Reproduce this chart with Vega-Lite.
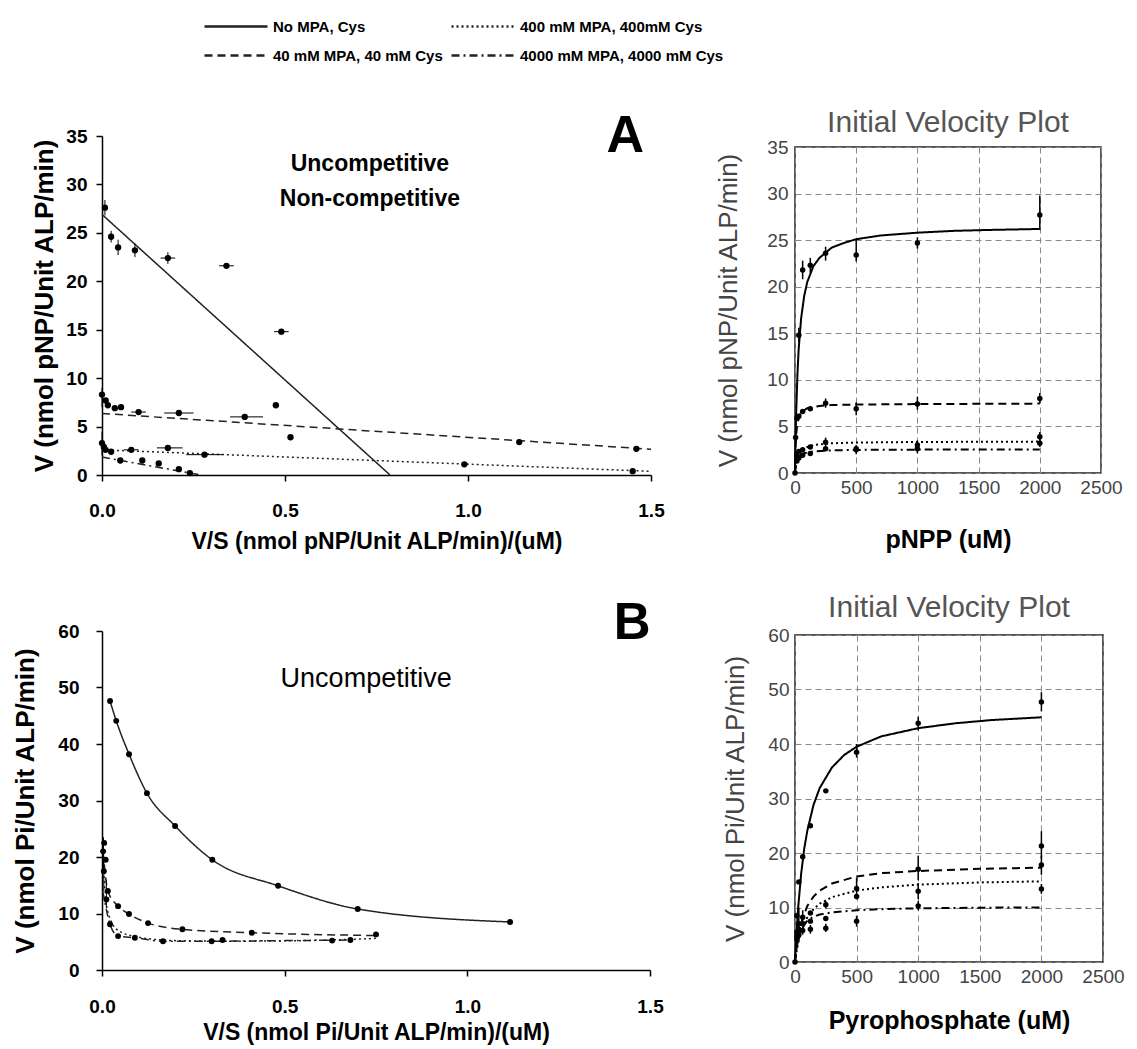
{
  "$schema": "https://vega.github.io/schema/vega-lite/v6.json",
  "background": "white",
  "padding": {"left": 12, "top": 14, "right": 5, "bottom": 5},
  "config": {"font": "Liberation Sans", "view": {"stroke": null}},
  "datasets": {
    "aL_lines": [
      {"series": "No MPA, Cys", "x": 0, "y": 26.9}, {"series": "No MPA, Cys", "x": 0.787, "y": 0},
      {"series": "40 mM MPA, 40 mM Cys", "x": 0, "y": 6.35}, {"series": "40 mM MPA, 40 mM Cys", "x": 1.5, "y": 2.66},
      {"series": "400 mM MPA, 400mM Cys", "x": 0, "y": 2.6}, {"series": "400 mM MPA, 400mM Cys", "x": 1.5, "y": 0.38},
      {"series": "4000 mM MPA, 4000 mM Cys", "x": 0, "y": 1.85}, {"series": "4000 mM MPA, 4000 mM Cys", "x": 0.27, "y": 0}
    ],
    "aL_pts": [
      {"x": 0.008, "y": 27.6}, {"x": 0.025, "y": 24.6}, {"x": 0.044, "y": 23.5}, {"x": 0.09, "y": 23.2}, {"x": 0.18, "y": 22.4}, {"x": 0.34, "y": 21.6}, {"x": 0.49, "y": 14.8}, {"x": 0.475, "y": 7.2}, {"x": 0.515, "y": 3.9},
      {"x": 0.0, "y": 8.3}, {"x": 0.01, "y": 7.7}, {"x": 0.016, "y": 7.2}, {"x": 0.035, "y": 6.9}, {"x": 0.052, "y": 7.0}, {"x": 0.1, "y": 6.5}, {"x": 0.21, "y": 6.4}, {"x": 0.39, "y": 6.0}, {"x": 1.14, "y": 3.4}, {"x": 1.46, "y": 2.7},
      {"x": 0.0, "y": 3.3}, {"x": 0.005, "y": 2.9}, {"x": 0.01, "y": 2.6}, {"x": 0.025, "y": 2.4}, {"x": 0.08, "y": 2.6}, {"x": 0.18, "y": 2.8}, {"x": 0.28, "y": 2.1}, {"x": 0.99, "y": 1.1}, {"x": 1.45, "y": 0.4},
      {"x": 0.05, "y": 1.5}, {"x": 0.11, "y": 1.5}, {"x": 0.155, "y": 1.2}, {"x": 0.21, "y": 0.6}, {"x": 0.24, "y": 0.2}
    ],
    "aL_herr": [
      {"y": 6.4, "xlo": 0.17, "xhi": 0.25}, {"y": 6.0, "xlo": 0.35, "xhi": 0.44}, {"y": 2.1, "xlo": 0.23, "xhi": 0.33}, {"y": 2.8, "xlo": 0.15, "xhi": 0.22}, {"y": 6.5, "xlo": 0.08, "xhi": 0.12}, {"y": 22.4, "xlo": 0.16, "xhi": 0.2}, {"y": 21.6, "xlo": 0.32, "xhi": 0.36}, {"y": 14.8, "xlo": 0.47, "xhi": 0.51}, {"y": 2.6, "xlo": 0.06, "xhi": 0.1}
    ],
    "aL_verr": [
      {"x": 0.008, "ylo": 26.8, "yhi": 28.4}, {"x": 0.025, "ylo": 24.0, "yhi": 25.2}, {"x": 0.044, "ylo": 22.7, "yhi": 24.3}, {"x": 0.09, "ylo": 22.5, "yhi": 23.9}, {"x": 0.18, "ylo": 21.8, "yhi": 23.0}, {"x": 0.0, "ylo": 7.0, "yhi": 9.0}, {"x": 0.0, "ylo": 2.0, "yhi": 4.5}
    ],
    "aL_txt": [{"label": "Uncompetitive", "x": 0.732, "y": 32.1}, {"label": "Non-competitive", "x": 0.732, "y": 28.5}],
    "aL_letter": [{"label": "A", "x": 1.43, "y": 35.0}],
    "aR_lines": [
      {"series": "No MPA, Cys", "x": 0, "y": 0}, {"series": "No MPA, Cys", "x": 5, "y": 3.8}, {"series": "No MPA, Cys", "x": 10, "y": 6.65}, {"series": "No MPA, Cys", "x": 20, "y": 10.6}, {"series": "No MPA, Cys", "x": 30, "y": 13.3}, {"series": "No MPA, Cys", "x": 50, "y": 16.6}, {"series": "No MPA, Cys", "x": 75, "y": 19.0}, {"series": "No MPA, Cys", "x": 100, "y": 20.5}, {"series": "No MPA, Cys", "x": 150, "y": 22.2}, {"series": "No MPA, Cys", "x": 200, "y": 23.1}, {"series": "No MPA, Cys", "x": 300, "y": 24.2}, {"series": "No MPA, Cys", "x": 400, "y": 24.7}, {"series": "No MPA, Cys", "x": 500, "y": 25.1}, {"series": "No MPA, Cys", "x": 700, "y": 25.5}, {"series": "No MPA, Cys", "x": 1000, "y": 25.8}, {"series": "No MPA, Cys", "x": 1300, "y": 26.0}, {"series": "No MPA, Cys", "x": 1600, "y": 26.1}, {"series": "No MPA, Cys", "x": 2000, "y": 26.2},
      {"series": "40 mM MPA, 40 mM Cys", "x": 0, "y": 0}, {"series": "40 mM MPA, 40 mM Cys", "x": 5, "y": 2.9}, {"series": "40 mM MPA, 40 mM Cys", "x": 10, "y": 4.2}, {"series": "40 mM MPA, 40 mM Cys", "x": 20, "y": 5.4}, {"series": "40 mM MPA, 40 mM Cys", "x": 40, "y": 6.25}, {"series": "40 mM MPA, 40 mM Cys", "x": 60, "y": 6.6}, {"series": "40 mM MPA, 40 mM Cys", "x": 100, "y": 6.95}, {"series": "40 mM MPA, 40 mM Cys", "x": 200, "y": 7.2}, {"series": "40 mM MPA, 40 mM Cys", "x": 300, "y": 7.3}, {"series": "40 mM MPA, 40 mM Cys", "x": 500, "y": 7.35}, {"series": "40 mM MPA, 40 mM Cys", "x": 1000, "y": 7.4}, {"series": "40 mM MPA, 40 mM Cys", "x": 2000, "y": 7.45},
      {"series": "400 mM MPA, 400mM Cys", "x": 0, "y": 0}, {"series": "400 mM MPA, 400mM Cys", "x": 10, "y": 1.13}, {"series": "400 mM MPA, 400mM Cys", "x": 20, "y": 1.7}, {"series": "400 mM MPA, 400mM Cys", "x": 40, "y": 2.27}, {"series": "400 mM MPA, 400mM Cys", "x": 75, "y": 2.68}, {"series": "400 mM MPA, 400mM Cys", "x": 150, "y": 3.0}, {"series": "400 mM MPA, 400mM Cys", "x": 300, "y": 3.19}, {"series": "400 mM MPA, 400mM Cys", "x": 500, "y": 3.27}, {"series": "400 mM MPA, 400mM Cys", "x": 1000, "y": 3.33}, {"series": "400 mM MPA, 400mM Cys", "x": 2000, "y": 3.37},
      {"series": "4000 mM MPA, 4000 mM Cys", "x": 0, "y": 0}, {"series": "4000 mM MPA, 4000 mM Cys", "x": 10, "y": 1.02}, {"series": "4000 mM MPA, 4000 mM Cys", "x": 20, "y": 1.46}, {"series": "4000 mM MPA, 4000 mM Cys", "x": 40, "y": 1.85}, {"series": "4000 mM MPA, 4000 mM Cys", "x": 75, "y": 2.13}, {"series": "4000 mM MPA, 4000 mM Cys", "x": 150, "y": 2.32}, {"series": "4000 mM MPA, 4000 mM Cys", "x": 300, "y": 2.43}, {"series": "4000 mM MPA, 4000 mM Cys", "x": 500, "y": 2.48}, {"series": "4000 mM MPA, 4000 mM Cys", "x": 1000, "y": 2.51}, {"series": "4000 mM MPA, 4000 mM Cys", "x": 2000, "y": 2.53}
    ],
    "aR_pts": [
      {"x": 0, "y": 0}, {"x": 31.25, "y": 14.8}, {"x": 62.5, "y": 21.8}, {"x": 125, "y": 22.3}, {"x": 250, "y": 23.6}, {"x": 500, "y": 23.4}, {"x": 1000, "y": 24.7}, {"x": 2000, "y": 27.7},
      {"x": 15.6, "y": 5.9}, {"x": 31.25, "y": 6.1}, {"x": 62.5, "y": 6.6}, {"x": 125, "y": 6.9}, {"x": 250, "y": 7.5}, {"x": 500, "y": 6.9}, {"x": 1000, "y": 7.4}, {"x": 2000, "y": 8.0},
      {"x": 15.6, "y": 1.9}, {"x": 31.25, "y": 2.3}, {"x": 62.5, "y": 2.5}, {"x": 125, "y": 2.8}, {"x": 250, "y": 3.3}, {"x": 500, "y": 2.6}, {"x": 1000, "y": 3.0}, {"x": 2000, "y": 3.9},
      {"x": 15.6, "y": 1.3}, {"x": 31.25, "y": 1.6}, {"x": 62.5, "y": 1.9}, {"x": 125, "y": 2.1}, {"x": 250, "y": 2.6}, {"x": 500, "y": 2.5}, {"x": 1000, "y": 2.6}, {"x": 2000, "y": 3.2}, {"x": 5, "y": 3.8}
    ],
    "aR_err": [
      {"x": 31.25, "ylo": 14, "yhi": 15.6}, {"x": 62.5, "ylo": 20.8, "yhi": 22.8}, {"x": 125, "ylo": 21.5, "yhi": 23.1}, {"x": 250, "ylo": 22.8, "yhi": 24.3}, {"x": 500, "ylo": 22.7, "yhi": 25.0}, {"x": 1000, "ylo": 24.1, "yhi": 25.3}, {"x": 2000, "ylo": 26.1, "yhi": 29.8},
      {"x": 500, "ylo": 6.2, "yhi": 7.6}, {"x": 1000, "ylo": 6.8, "yhi": 8.2}, {"x": 2000, "ylo": 7.5, "yhi": 8.6}, {"x": 250, "ylo": 7.0, "yhi": 8.0}, {"x": 250, "ylo": 2.8, "yhi": 3.8}, {"x": 1000, "ylo": 2.5, "yhi": 3.5}, {"x": 2000, "ylo": 3.4, "yhi": 4.4}, {"x": 500, "ylo": 2.0, "yhi": 3.0}, {"x": 1000, "ylo": 2.1, "yhi": 3.1}, {"x": 2000, "ylo": 2.8, "yhi": 3.6}
    ],
    "bL_lines": [
      {"series": "No MPA, Cys", "x": 0.022, "y": 47.6}, {"series": "No MPA, Cys", "x": 0.039, "y": 44.1}, {"series": "No MPA, Cys", "x": 0.074, "y": 38.2}, {"series": "No MPA, Cys", "x": 0.123, "y": 31.3}, {"series": "No MPA, Cys", "x": 0.2, "y": 25.5}, {"series": "No MPA, Cys", "x": 0.302, "y": 19.5}, {"series": "No MPA, Cys", "x": 0.482, "y": 14.9}, {"series": "No MPA, Cys", "x": 0.7, "y": 10.8}, {"series": "No MPA, Cys", "x": 1.117, "y": 8.5},
      {"series": "40 mM MPA, 40 mM Cys", "x": 0.003, "y": 21}, {"series": "40 mM MPA, 40 mM Cys", "x": 0.016, "y": 14}, {"series": "40 mM MPA, 40 mM Cys", "x": 0.044, "y": 11.3}, {"series": "40 mM MPA, 40 mM Cys", "x": 0.074, "y": 9.9}, {"series": "40 mM MPA, 40 mM Cys", "x": 0.126, "y": 8.3}, {"series": "40 mM MPA, 40 mM Cys", "x": 0.22, "y": 7.2}, {"series": "40 mM MPA, 40 mM Cys", "x": 0.41, "y": 6.6}, {"series": "40 mM MPA, 40 mM Cys", "x": 0.75, "y": 6.1},
      {"series": "400 mM MPA, 400mM Cys", "x": 0.004, "y": 17.5}, {"series": "400 mM MPA, 400mM Cys", "x": 0.015, "y": 10.5}, {"series": "400 mM MPA, 400mM Cys", "x": 0.044, "y": 7.0}, {"series": "400 mM MPA, 400mM Cys", "x": 0.1, "y": 5.8}, {"series": "400 mM MPA, 400mM Cys", "x": 0.2, "y": 5.2}, {"series": "400 mM MPA, 400mM Cys", "x": 0.35, "y": 5.1}, {"series": "400 mM MPA, 400mM Cys", "x": 0.55, "y": 5.2}, {"series": "400 mM MPA, 400mM Cys", "x": 0.75, "y": 5.6},
      {"series": "4000 mM MPA, 4000 mM Cys", "x": 0.002, "y": 14}, {"series": "4000 mM MPA, 4000 mM Cys", "x": 0.022, "y": 8.1}, {"series": "4000 mM MPA, 4000 mM Cys", "x": 0.044, "y": 6.0}, {"series": "4000 mM MPA, 4000 mM Cys", "x": 0.09, "y": 5.7}, {"series": "4000 mM MPA, 4000 mM Cys", "x": 0.167, "y": 5.1}, {"series": "4000 mM MPA, 4000 mM Cys", "x": 0.3, "y": 5.1}, {"series": "4000 mM MPA, 4000 mM Cys", "x": 0.5, "y": 5.2}, {"series": "4000 mM MPA, 4000 mM Cys", "x": 0.68, "y": 5.3}
    ],
    "bL_pts": [
      {"x": 0.022, "y": 47.6}, {"x": 0.039, "y": 44.1}, {"x": 0.074, "y": 38.2}, {"x": 0.123, "y": 31.3}, {"x": 0.2, "y": 25.5}, {"x": 0.302, "y": 19.5}, {"x": 0.482, "y": 14.9}, {"x": 0.7, "y": 10.8}, {"x": 1.117, "y": 8.5},
      {"x": 0.003, "y": 21}, {"x": 0.005, "y": 17.5}, {"x": 0.016, "y": 14}, {"x": 0.044, "y": 11.3}, {"x": 0.074, "y": 9.9}, {"x": 0.126, "y": 8.3}, {"x": 0.22, "y": 7.2}, {"x": 0.41, "y": 6.6}, {"x": 0.75, "y": 6.3},
      {"x": 0.022, "y": 8.1}, {"x": 0.044, "y": 6.0}, {"x": 0.09, "y": 5.7}, {"x": 0.167, "y": 5.1}, {"x": 0.3, "y": 5.1}, {"x": 0.33, "y": 5.3}, {"x": 0.63, "y": 5.2}, {"x": 0.68, "y": 5.3}, {"x": 0.006, "y": 22.5}, {"x": 0.01, "y": 19.5}, {"x": 0.012, "y": 12.5}
    ],
    "bL_verr": [{"x": 0.004, "ylo": 18, "yhi": 23.5}, {"x": 0.012, "ylo": 11, "yhi": 16}, {"x": 0.005, "ylo": 14, "yhi": 20}],
    "bL_txt": [{"label": "Uncompetitive", "x": 0.723, "y": 51.5}],
    "bL_letter": [{"label": "B", "x": 1.451, "y": 61.2}],
    "bR_lines": [
      {"series": "No MPA, Cys", "x": 0, "y": 0}, {"series": "No MPA, Cys", "x": 10, "y": 4.5}, {"series": "No MPA, Cys", "x": 25, "y": 9.8}, {"series": "No MPA, Cys", "x": 50, "y": 16.2}, {"series": "No MPA, Cys", "x": 75, "y": 20.8}, {"series": "No MPA, Cys", "x": 100, "y": 24.1}, {"series": "No MPA, Cys", "x": 150, "y": 28.8}, {"series": "No MPA, Cys", "x": 200, "y": 31.9}, {"series": "No MPA, Cys", "x": 300, "y": 35.7}, {"series": "No MPA, Cys", "x": 400, "y": 38.0}, {"series": "No MPA, Cys", "x": 500, "y": 39.5}, {"series": "No MPA, Cys", "x": 700, "y": 41.4}, {"series": "No MPA, Cys", "x": 1000, "y": 42.9}, {"series": "No MPA, Cys", "x": 1300, "y": 43.8}, {"series": "No MPA, Cys", "x": 1600, "y": 44.4}, {"series": "No MPA, Cys", "x": 2000, "y": 44.9},
      {"series": "40 mM MPA, 40 mM Cys", "x": 0, "y": 0}, {"series": "40 mM MPA, 40 mM Cys", "x": 10, "y": 2.1}, {"series": "40 mM MPA, 40 mM Cys", "x": 25, "y": 4.5}, {"series": "40 mM MPA, 40 mM Cys", "x": 50, "y": 7.2}, {"series": "40 mM MPA, 40 mM Cys", "x": 100, "y": 10.3}, {"series": "40 mM MPA, 40 mM Cys", "x": 150, "y": 12.0}, {"series": "40 mM MPA, 40 mM Cys", "x": 200, "y": 13.1}, {"series": "40 mM MPA, 40 mM Cys", "x": 300, "y": 14.4}, {"series": "40 mM MPA, 40 mM Cys", "x": 500, "y": 15.7}, {"series": "40 mM MPA, 40 mM Cys", "x": 700, "y": 16.3}, {"series": "40 mM MPA, 40 mM Cys", "x": 1000, "y": 16.7}, {"series": "40 mM MPA, 40 mM Cys", "x": 1500, "y": 17.1}, {"series": "40 mM MPA, 40 mM Cys", "x": 2000, "y": 17.3},
      {"series": "400 mM MPA, 400mM Cys", "x": 0, "y": 0}, {"series": "400 mM MPA, 400mM Cys", "x": 10, "y": 1.55}, {"series": "400 mM MPA, 400mM Cys", "x": 25, "y": 3.4}, {"series": "400 mM MPA, 400mM Cys", "x": 50, "y": 5.5}, {"series": "400 mM MPA, 400mM Cys", "x": 100, "y": 8.2}, {"series": "400 mM MPA, 400mM Cys", "x": 150, "y": 9.7}, {"series": "400 mM MPA, 400mM Cys", "x": 200, "y": 10.7}, {"series": "400 mM MPA, 400mM Cys", "x": 300, "y": 11.9}, {"series": "400 mM MPA, 400mM Cys", "x": 500, "y": 13.1}, {"series": "400 mM MPA, 400mM Cys", "x": 700, "y": 13.7}, {"series": "400 mM MPA, 400mM Cys", "x": 1000, "y": 14.2}, {"series": "400 mM MPA, 400mM Cys", "x": 1500, "y": 14.6}, {"series": "400 mM MPA, 400mM Cys", "x": 2000, "y": 14.8},
      {"series": "4000 mM MPA, 4000 mM Cys", "x": 0, "y": 0}, {"series": "4000 mM MPA, 4000 mM Cys", "x": 10, "y": 2.3}, {"series": "4000 mM MPA, 4000 mM Cys", "x": 25, "y": 4.25}, {"series": "4000 mM MPA, 4000 mM Cys", "x": 50, "y": 6.0}, {"series": "4000 mM MPA, 4000 mM Cys", "x": 100, "y": 7.6}, {"series": "4000 mM MPA, 4000 mM Cys", "x": 150, "y": 8.3}, {"series": "4000 mM MPA, 4000 mM Cys", "x": 200, "y": 8.7}, {"series": "4000 mM MPA, 4000 mM Cys", "x": 300, "y": 9.1}, {"series": "4000 mM MPA, 4000 mM Cys", "x": 500, "y": 9.5}, {"series": "4000 mM MPA, 4000 mM Cys", "x": 700, "y": 9.7}, {"series": "4000 mM MPA, 4000 mM Cys", "x": 1000, "y": 9.85}, {"series": "4000 mM MPA, 4000 mM Cys", "x": 1500, "y": 9.97}, {"series": "4000 mM MPA, 4000 mM Cys", "x": 2000, "y": 10.0}
    ],
    "bR_pts": [
      {"x": 0, "y": 0}, {"x": 15.6, "y": 8.5}, {"x": 31.25, "y": 14.7}, {"x": 62.5, "y": 19.3}, {"x": 125, "y": 25.0}, {"x": 250, "y": 31.4}, {"x": 500, "y": 38.5}, {"x": 1000, "y": 43.8}, {"x": 2000, "y": 47.7},
      {"x": 15.6, "y": 5.5}, {"x": 31.25, "y": 7.0}, {"x": 62.5, "y": 8.2}, {"x": 125, "y": 9.0}, {"x": 250, "y": 10.5}, {"x": 500, "y": 13.5}, {"x": 1000, "y": 17.0}, {"x": 2000, "y": 21.3},
      {"x": 15.6, "y": 4.8}, {"x": 31.25, "y": 6.0}, {"x": 62.5, "y": 7.0}, {"x": 125, "y": 7.5}, {"x": 250, "y": 8.0}, {"x": 500, "y": 12.0}, {"x": 1000, "y": 13.0}, {"x": 2000, "y": 17.8},
      {"x": 15.6, "y": 4.2}, {"x": 31.25, "y": 5.0}, {"x": 62.5, "y": 5.8}, {"x": 125, "y": 6.0}, {"x": 250, "y": 6.2}, {"x": 500, "y": 7.5}, {"x": 1000, "y": 10.3}, {"x": 2000, "y": 13.4}
    ],
    "bR_err": [
      {"x": 500, "ylo": 37.5, "yhi": 40}, {"x": 1000, "ylo": 42.5, "yhi": 45}, {"x": 2000, "ylo": 46, "yhi": 49.5}, {"x": 250, "ylo": 9.8, "yhi": 11.2}, {"x": 500, "ylo": 11.5, "yhi": 15.5}, {"x": 1000, "ylo": 15, "yhi": 19.5}, {"x": 2000, "ylo": 19, "yhi": 24}, {"x": 1000, "ylo": 11.5, "yhi": 14.5}, {"x": 2000, "ylo": 16, "yhi": 19.5}, {"x": 125, "ylo": 5.2, "yhi": 6.8}, {"x": 250, "ylo": 5.5, "yhi": 7}, {"x": 500, "ylo": 6.5, "yhi": 8.5}, {"x": 1000, "ylo": 9.5, "yhi": 11.2}, {"x": 2000, "ylo": 12.5, "yhi": 14.3}, {"x": 31.25, "ylo": 4, "yhi": 10}, {"x": 62.5, "ylo": 5, "yhi": 9.5}
    ]
  },
  "hconcat": [
    {
      "spacing": 45,
      "vconcat": [
        {
          "width": 549, "height": 339,
          "view": {"stroke": null},
          "encoding": {
            "x": {"field": "x", "type": "quantitative", "scale": {"domain": [0, 1.5], "nice": false, "zero": false},
              "axis": {"title": "V/S (nmol pNP/Unit ALP/min)/(uM)", "values": [0, 0.5, 1, 1.5], "format": ".1f", "grid": false, "labelFont": "Liberation Sans", "labelFontWeight": "bold", "labelFontSize": 19, "labelColor": "black", "labelPadding": 20, "labelFlush": false, "labelOverlap": false, "tickSize": 6, "tickColor": "black", "tickWidth": 1.5, "domainColor": "black", "domainWidth": 1.5, "titleFont": "Liberation Sans", "titleFontSize": 23, "titleFontWeight": "bold", "titleColor": "black", "titlePadding": 10}},
            "y": {"field": "y", "type": "quantitative", "scale": {"domain": [0, 35], "nice": false},
              "axis": {"title": "V (nmol pNP/Unit ALP/min)", "values": [0, 5, 10, 15, 20, 25, 30, 35], "grid": false, "labelFont": "Liberation Sans", "labelFontWeight": "bold", "labelFontSize": 19, "labelColor": "black", "labelPadding": 9, "labelOverlap": false, "tickSize": 6, "tickColor": "black", "tickWidth": 1.5, "domainColor": "black", "domainWidth": 1.5, "titleFont": "Liberation Sans", "titleFontSize": 26, "titleFontWeight": "bold", "titleColor": "black", "titlePadding": 8}}
          },
          "layer": [
            {"data": {"name": "aL_lines"}, "mark": {"type": "line", "color": "#222", "strokeWidth": 1.5},
              "encoding": {"strokeDash": {"field": "series", "type": "nominal",
                "scale": {"domain": ["No MPA, Cys", "40 mM MPA, 40 mM Cys", "400 mM MPA, 400mM Cys", "4000 mM MPA, 4000 mM Cys"], "range": [[1, 0], [8, 5], [2, 3], [8, 4, 2, 4]]},
                "legend": {"orient": "none", "legendX": 122, "legendY": -121.5, "columns": 2, "title": null, "symbolType": "M-3,0H3", "symbolSize": 441, "symbolStrokeWidth": 2.5, "symbolStrokeColor": "#222", "labelFont": "Liberation Sans", "labelFontWeight": "bold", "labelFontSize": 15, "labelColor": "black", "labelOffset": 25, "columnPadding": 3, "rowPadding": 9, "labelLimit": 400, "padding": 0}}}},
            {"data": {"name": "aL_herr"}, "mark": {"type": "rule", "color": "black", "strokeWidth": 1}, "encoding": {"x": {"field": "xlo", "type": "quantitative"}, "x2": {"field": "xhi"}}},
            {"data": {"name": "aL_verr"}, "mark": {"type": "rule", "color": "black", "strokeWidth": 1}, "encoding": {"y": {"field": "ylo", "type": "quantitative"}, "y2": {"field": "yhi"}}},
            {"data": {"name": "aL_pts"}, "mark": {"type": "point", "filled": true, "color": "black", "size": 40, "opacity": 1}},
            {"data": {"name": "aL_txt"}, "mark": {"type": "text", "font": "Liberation Sans", "fontWeight": "bold", "fontSize": 23, "color": "black", "align": "center", "baseline": "middle"}, "encoding": {"text": {"field": "label"}}},
            {"data": {"name": "aL_letter"}, "mark": {"type": "text", "font": "Liberation Sans", "fontWeight": "bold", "fontSize": 52, "color": "black", "align": "center", "baseline": "middle"}, "encoding": {"text": {"field": "label"}}}
          ]
        },
        {
          "width": 548, "height": 339,
          "view": {"stroke": null},
          "encoding": {
            "x": {"field": "x", "type": "quantitative", "scale": {"domain": [0, 1.5], "nice": false, "zero": false},
              "axis": {"title": "V/S (nmol Pi/Unit ALP/min)/(uM)", "values": [0, 0.5, 1, 1.5], "format": ".1f", "grid": false, "labelFont": "Liberation Sans", "labelFontWeight": "bold", "labelFontSize": 19, "labelColor": "black", "labelPadding": 21, "labelFlush": false, "labelOverlap": false, "tickSize": 6, "tickColor": "black", "tickWidth": 1.5, "domainColor": "black", "domainWidth": 1.5, "titleFont": "Liberation Sans", "titleFontSize": 23, "titleFontWeight": "bold", "titleColor": "black", "titlePadding": 5}},
            "y": {"field": "y", "type": "quantitative", "scale": {"domain": [0, 60], "nice": false},
              "axis": {"title": "V (nmol Pi/Unit ALP/min)", "values": [0, 10, 20, 30, 40, 50, 60], "grid": false, "labelFont": "Liberation Sans", "labelFontWeight": "bold", "labelFontSize": 19, "labelColor": "black", "labelPadding": 17, "labelOverlap": false, "tickSize": 6, "tickColor": "black", "tickWidth": 1.5, "domainColor": "black", "domainWidth": 1.5, "titleFont": "Liberation Sans", "titleFontSize": 26, "titleFontWeight": "bold", "titleColor": "black", "titlePadding": 19}}
          },
          "layer": [
            {"data": {"name": "bL_lines"}, "mark": {"type": "line", "color": "#222", "strokeWidth": 1.5, "interpolate": "monotone"},
              "encoding": {"strokeDash": {"field": "series", "type": "nominal",
                "scale": {"domain": ["No MPA, Cys", "40 mM MPA, 40 mM Cys", "400 mM MPA, 400mM Cys", "4000 mM MPA, 4000 mM Cys"], "range": [[1, 0], [8, 5], [2, 3], [8, 4, 2, 4]]},
                "legend": {"orient": "none", "legendX": 122, "legendY": -121.5, "columns": 2, "title": null, "symbolType": "M-3,0H3", "symbolSize": 441, "symbolStrokeWidth": 2.5, "symbolStrokeColor": "#222", "labelFont": "Liberation Sans", "labelFontWeight": "bold", "labelFontSize": 15, "labelColor": "black", "labelOffset": 25, "columnPadding": 3, "rowPadding": 9, "labelLimit": 400, "padding": 0}}}},
            {"data": {"name": "bL_verr"}, "mark": {"type": "rule", "color": "black", "strokeWidth": 1}, "encoding": {"y": {"field": "ylo", "type": "quantitative"}, "y2": {"field": "yhi"}}},
            {"data": {"name": "bL_pts"}, "mark": {"type": "point", "filled": true, "color": "black", "size": 35, "opacity": 1}},
            {"data": {"name": "bL_txt"}, "mark": {"type": "text", "font": "Liberation Sans", "fontWeight": "normal", "fontSize": 27, "color": "black", "align": "center", "baseline": "middle"}, "encoding": {"text": {"field": "label"}}},
            {"data": {"name": "bL_letter"}, "mark": {"type": "text", "font": "Liberation Sans", "fontWeight": "bold", "fontSize": 51, "color": "black", "align": "center", "baseline": "middle"}, "encoding": {"text": {"field": "label"}}}
          ]
        }
      ]
    },
    {
      "spacing": -30,
      "vconcat": [
        {"width": 306, "height": 1, "data": {"values": []}, "mark": "point"},
        {
          "spacing": 39,
          "vconcat": [
            {
              "width": 306, "height": 326,
              "title": {"text": "Initial Velocity Plot", "font": "Liberation Sans", "fontSize": 30, "fontWeight": "normal", "color": "#555", "offset": 0},
              "view": {"stroke": "#222", "strokeWidth": 1.5},
              "encoding": {
                "x": {"field": "x", "type": "quantitative", "scale": {"domain": [0, 2500], "nice": false},
                  "axis": {"title": "pNPP (uM)", "values": [0, 500, 1000, 1500, 2000, 2500], "format": "d", "grid": true, "gridDash": [6, 4], "gridColor": "#888", "gridWidth": 1, "domain": false, "ticks": false, "labelFont": "Liberation Sans", "labelFontSize": 19, "labelColor": "#444", "labelPadding": 5, "labelFlush": false, "labelOverlap": false, "titleFont": "Liberation Sans", "titleFontSize": 25, "titleFontWeight": "bold", "titleColor": "black", "titlePadding": 30}},
                "y": {"field": "y", "type": "quantitative", "scale": {"domain": [0, 35], "nice": false},
                  "axis": {"title": "V (nmol pNP/Unit ALP/min)", "values": [0, 5, 10, 15, 20, 25, 30, 35], "grid": true, "gridDash": [6, 4], "gridColor": "#888", "gridWidth": 1, "domain": false, "ticks": false, "labelFont": "Liberation Sans", "labelFontSize": 19, "labelColor": "#444", "labelPadding": 7, "labelOverlap": false, "titleFont": "Liberation Sans", "titleFontSize": 26, "titleFontWeight": "normal", "titleColor": "#444", "titlePadding": 25}}
              },
              "layer": [
                {"data": {"name": "aR_lines"}, "mark": {"type": "line", "color": "black", "strokeWidth": 2},
                  "encoding": {"strokeDash": {"field": "series", "type": "nominal",
                    "scale": {"domain": ["No MPA, Cys", "40 mM MPA, 40 mM Cys", "400 mM MPA, 400mM Cys", "4000 mM MPA, 4000 mM Cys"], "range": [[1, 0], [8, 5], [2, 3], [8, 4, 2, 4]]},
                    "legend": {"orient": "none", "legendX": 122, "legendY": -121.5, "columns": 2, "title": null, "symbolType": "M-3,0H3", "symbolSize": 441, "symbolStrokeWidth": 2.5, "symbolStrokeColor": "#222", "labelFont": "Liberation Sans", "labelFontWeight": "bold", "labelFontSize": 15, "labelColor": "black", "labelOffset": 25, "columnPadding": 3, "rowPadding": 9, "labelLimit": 400, "padding": 0}}}},
                {"data": {"name": "aR_err"}, "mark": {"type": "rule", "color": "black", "strokeWidth": 1.5}, "encoding": {"y": {"field": "ylo", "type": "quantitative"}, "y2": {"field": "yhi"}}},
                {"data": {"name": "aR_pts"}, "mark": {"type": "point", "filled": true, "color": "black", "size": 30, "opacity": 1}}
              ]
            },
            {
              "width": 308, "height": 327,
              "title": {"text": "Initial Velocity Plot", "font": "Liberation Sans", "fontSize": 30, "fontWeight": "normal", "color": "#555", "offset": 3},
              "view": {"stroke": "#222", "strokeWidth": 1.5},
              "encoding": {
                "x": {"field": "x", "type": "quantitative", "scale": {"domain": [0, 2500], "nice": false},
                  "axis": {"title": "Pyrophosphate (uM)", "values": [0, 500, 1000, 1500, 2000, 2500], "format": "d", "grid": true, "gridDash": [6, 4], "gridColor": "#888", "gridWidth": 1, "domain": false, "ticks": false, "labelFont": "Liberation Sans", "labelFontSize": 19, "labelColor": "#444", "labelPadding": 5, "labelFlush": false, "labelOverlap": false, "titleFont": "Liberation Sans", "titleFontSize": 25, "titleFontWeight": "bold", "titleColor": "black", "titlePadding": 22}},
                "y": {"field": "y", "type": "quantitative", "scale": {"domain": [0, 60], "nice": false},
                  "axis": {"title": "V (nmol Pi/Unit ALP/min)", "values": [0, 10, 20, 30, 40, 50, 60], "grid": true, "gridDash": [6, 4], "gridColor": "#888", "gridWidth": 1, "domain": false, "ticks": false, "labelFont": "Liberation Sans", "labelFontSize": 19, "labelColor": "#444", "labelPadding": 6, "labelOverlap": false, "titleFont": "Liberation Sans", "titleFontSize": 26, "titleFontWeight": "normal", "titleColor": "#444", "titlePadding": 19}}
              },
              "layer": [
                {"data": {"name": "bR_lines"}, "mark": {"type": "line", "color": "black", "strokeWidth": 2},
                  "encoding": {"strokeDash": {"field": "series", "type": "nominal",
                    "scale": {"domain": ["No MPA, Cys", "40 mM MPA, 40 mM Cys", "400 mM MPA, 400mM Cys", "4000 mM MPA, 4000 mM Cys"], "range": [[1, 0], [8, 5], [2, 3], [8, 4, 2, 4]]},
                    "legend": {"orient": "none", "legendX": 122, "legendY": -121.5, "columns": 2, "title": null, "symbolType": "M-3,0H3", "symbolSize": 441, "symbolStrokeWidth": 2.5, "symbolStrokeColor": "#222", "labelFont": "Liberation Sans", "labelFontWeight": "bold", "labelFontSize": 15, "labelColor": "black", "labelOffset": 25, "columnPadding": 3, "rowPadding": 9, "labelLimit": 400, "padding": 0}}}},
                {"data": {"name": "bR_err"}, "mark": {"type": "rule", "color": "black", "strokeWidth": 1.5}, "encoding": {"y": {"field": "ylo", "type": "quantitative"}, "y2": {"field": "yhi"}}},
                {"data": {"name": "bR_pts"}, "mark": {"type": "point", "filled": true, "color": "black", "size": 30, "opacity": 1}}
              ]
            }
          ]
        }
      ]
    }
  ],
  "spacing": 50
}
